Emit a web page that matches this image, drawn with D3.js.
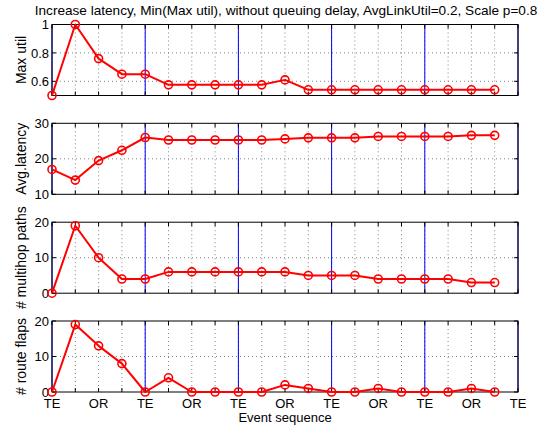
<!DOCTYPE html>
<html>
<head>
<meta charset="utf-8">
<script src="https://cdn.jsdelivr.net/npm/d3@7"></script>
<style>
body { margin: 0; background: #fff; }
svg text { font-family: "Liberation Sans", Arial, Helvetica, sans-serif; fill: #000; }
</style>
</head>
<body>
<svg id="chart" width="554" height="432"></svg>
<script>
const titleText = "Increase latency, Min(Max util), without queuing delay, AvgLinkUtil=0.2, Scale p=0.8";
const xLabelText = "Event sequence";
const xTickLabels = ["TE","","OR","","TE","","OR","","TE","","OR","","TE","","OR","","TE","","OR","","TE"];
const eventLines = [0, 4, 8, 12, 16, 20];

const maxUtil = [0.5, 1.0, 0.76, 0.65, 0.65, 0.575, 0.575, 0.575, 0.575, 0.575, 0.61, 0.54, 0.54, 0.54, 0.54, 0.54, 0.54, 0.54, 0.54, 0.54];
const avgLatency = [17, 14, 19.5, 22.4, 26, 25.3, 25.3, 25.3, 25.3, 25.3, 25.6, 25.9, 25.9, 25.9, 26.3, 26.3, 26.3, 26.3, 26.6, 26.6];
const multihopPaths = [0, 19, 10, 4, 4, 6, 6, 6, 6, 6, 6, 5, 5, 5, 4, 4, 4, 4, 3, 3];
const routeFlaps = [0, 19, 13, 8, 0, 4, 0, 0, 0, 0, 2, 1, 0, 0, 1, 0, 0, 0, 1, 0];

const panelLabels = ["Max util", "Avg.latency", "# multihop paths", "# route flaps"];
const panelDomains = [[0.5, 1], [10, 30], [0, 20], [0, 20]];
const panelTicks = [[0.6, 0.8, 1], [10, 20, 30], [0, 10, 20], [0, 10, 20]];
const panelTickLabels = [["0.6", "0.8", "1"], ["10", "20", "30"], ["0", "10", "20"], ["0", "10", "20"]];
const panelValues = [maxUtil, avgLatency, multihopPaths, routeFlaps];

const svg = d3.select("#chart");
const left = 52, right = 518;
const panelTops = [24.5, 123.3, 222.2, 321];
const panelH = 71;
const x = d3.scaleLinear().domain([0, 20]).range([left, right]);
const xTicks = d3.range(0, 21);

// title
svg.append("text")
  .attr("x", 286).attr("y", 15)
  .attr("text-anchor", "middle")
  .style("font-size", "13.6px")
  .text(titleText);

panelValues.forEach((vals, i) => {
  const top = panelTops[i], bottom = top + panelH;
  const y = d3.scaleLinear().domain(panelDomains[i]).range([bottom, top]);
  const g = svg.append("g");

  // grid lines
  g.selectAll(".vgrid").data(xTicks.filter(t => t > 0 && t < 20))
    .enter().append("line")
    .attr("x1", d => x(d)).attr("x2", d => x(d))
    .attr("y1", top).attr("y2", bottom)
    .attr("stroke", "#666").attr("stroke-width", 0.8)
    .attr("stroke-dasharray", "1,3");
  g.selectAll(".hgrid").data(panelTicks[i].filter(t => y(t) > top + 0.5 && y(t) < bottom - 0.5))
    .enter().append("line")
    .attr("x1", left).attr("x2", right)
    .attr("y1", d => y(d)).attr("y2", d => y(d))
    .attr("stroke", "#666").attr("stroke-width", 0.8)
    .attr("stroke-dasharray", "1,3");

  // event lines (blue)
  g.selectAll(".ev").data(eventLines).enter().append("line")
    .attr("x1", d => x(d)).attr("x2", d => x(d))
    .attr("y1", top).attr("y2", bottom)
    .attr("stroke", "#0000ff").attr("stroke-width", 1);

  // box
  g.append("rect").attr("x", left).attr("y", top)
    .attr("width", right - left).attr("height", panelH)
    .attr("fill", "none").attr("stroke", "#000").attr("stroke-width", 1);

  // x tick marks (inside, top & bottom)
  g.selectAll(".xtb").data(xTicks).enter().append("line")
    .attr("x1", d => x(d)).attr("x2", d => x(d))
    .attr("y1", bottom).attr("y2", bottom - 4)
    .attr("stroke", "#000").attr("stroke-width", 1);
  g.selectAll(".xtt").data(xTicks).enter().append("line")
    .attr("x1", d => x(d)).attr("x2", d => x(d))
    .attr("y1", top).attr("y2", top + 4)
    .attr("stroke", "#000").attr("stroke-width", 1);
  // y tick marks
  g.selectAll(".ytl").data(panelTicks[i]).enter().append("line")
    .attr("x1", left).attr("x2", left + 4)
    .attr("y1", d => y(d)).attr("y2", d => y(d))
    .attr("stroke", "#000");
  g.selectAll(".ytr").data(panelTicks[i]).enter().append("line")
    .attr("x1", right).attr("x2", right - 4)
    .attr("y1", d => y(d)).attr("y2", d => y(d))
    .attr("stroke", "#000");

  // y tick labels
  g.selectAll(".ylab").data(panelTicks[i]).enter().append("text")
    .attr("x", left - 3).attr("y", d => y(d))
    .attr("dy", "0.36em")
    .attr("text-anchor", "end")
    .style("font-size", "13px")
    .text((d, j) => panelTickLabels[i][j]);

  // y axis label
  g.append("text")
    .attr("transform", `translate(${26},${(top + bottom) / 2}) rotate(-90)`)
    .attr("text-anchor", "middle")
    .style("font-size", "14px")
    .text(panelLabels[i]);

  // data line
  const line = d3.line().x((d, j) => x(j)).y(d => y(d));
  g.append("path").datum(vals)
    .attr("d", line)
    .attr("fill", "none").attr("stroke", "#ff0000")
    .attr("stroke-width", 2).attr("stroke-linejoin", "round");
  g.selectAll(".mk").data(vals).enter().append("circle")
    .attr("cx", (d, j) => x(j)).attr("cy", d => y(d))
    .attr("r", 4)
    .attr("fill", "none").attr("stroke", "#ff0000").attr("stroke-width", 1.6);

  if (i === 3) {
    g.selectAll(".xlab").data(xTicks).enter().append("text")
      .attr("x", d => x(d)).attr("y", bottom + 16)
      .attr("text-anchor", "middle")
      .style("font-size", "13px")
      .text(d => xTickLabels[d]);
    g.append("text")
      .attr("x", (left + right) / 2).attr("y", bottom + 30)
      .attr("text-anchor", "middle")
      .style("font-size", "13px")
      .text(xLabelText);
  }
});
</script>
</body>
</html>
